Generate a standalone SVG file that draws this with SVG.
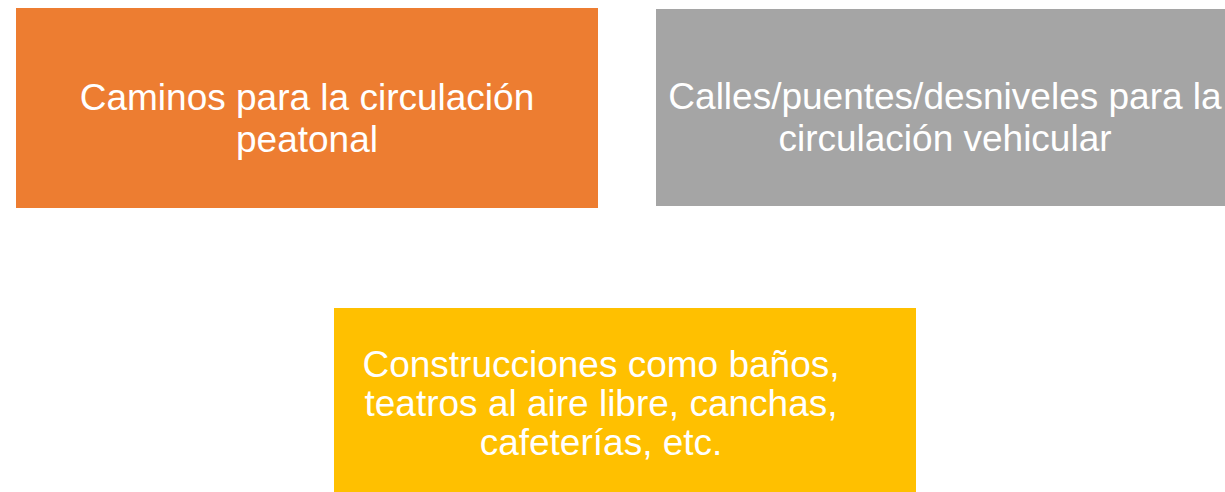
<svg xmlns="http://www.w3.org/2000/svg" width="1225" height="492" viewBox="0 0 1225 492">
<style>
.t{font-family:"Liberation Sans",Arial,sans-serif;font-size:37px;fill:#ffffff;text-anchor:middle}
</style>
<rect x="0" y="0" width="1225" height="492" fill="#ffffff"/>
<g id="node-peatonal">
<rect x="16" y="8" width="582" height="200" fill="#ED7D31"/>
<text class="t" x="307" y="109.5">Caminos para la circulación</text>
<text class="t" x="307" y="151.5">peatonal</text>
</g>
<g id="node-vehicular">
<rect x="656" y="9" width="576" height="197" fill="#A5A5A5"/>
<text class="t" x="945" y="109">Calles/puentes/desniveles para la</text>
<text class="t" x="945" y="151">circulación vehicular</text>
</g>
<g id="node-construcciones">
<rect x="334" y="308" width="582" height="184" fill="#FFC000"/>
<text class="t" x="601" y="377">Construcciones como baños,</text>
<text class="t" x="601" y="416">teatros al aire libre, canchas,</text>
<text class="t" x="601" y="455">cafeterías, etc.</text>
</g>
<g id="connectors"></g>
</svg>
